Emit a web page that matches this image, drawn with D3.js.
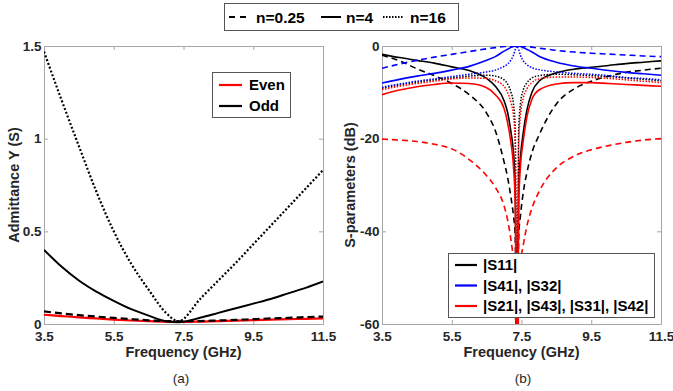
<!DOCTYPE html>
<html><head><meta charset="utf-8">
<script src="https://cdn.jsdelivr.net/npm/d3@7/dist/d3.min.js"></script>
<style>
body{margin:0;background:#fff;}
svg text{font-family:"Liberation Sans",Arial,sans-serif;}
</style></head>
<body><svg id="c" width="673" height="391"></svg>
<script>
// ---------- Data ----------
// (a) Admittance
const freqA = [3.5,4,4.5,5,5.5,6,6.5,7,7.35,8,8.5,9,9.5,10,10.5,11,11.5];
const oddN16  = [1.47,1.21,0.96,0.715,0.50,0.325,0.185,0.06,0.015,0.14,0.235,0.33,0.43,0.53,0.63,0.73,0.83];
const oddN4   = [0.40,0.31,0.235,0.175,0.125,0.08,0.045,0.015,0.01,0.035,0.06,0.085,0.11,0.135,0.165,0.195,0.23];
const oddN025 = [0.068,0.057,0.048,0.04,0.033,0.026,0.02,0.016,0.014,0.016,0.019,0.022,0.026,0.03,0.033,0.037,0.04];
const evenAll = [0.05,0.043,0.036,0.03,0.024,0.019,0.015,0.012,0.011,0.013,0.015,0.018,0.021,0.024,0.026,0.028,0.03];

// (b) S-parameters (dB)
const freqS = [3.5,4,4.5,5,5.5,6,6.5,6.75,7,7.1,7.2,7.27,7.32,7.37,7.42,7.47,7.55,7.65,7.8,8,8.5,9,9.5,10,10.5,11,11.5];
const s11N025 = [-2.0,-3.2,-4.9,-6.4,-8.1,-10.5,-14.5,-18.3,-25,-28.3,-32.8,-36.6,-41,-75,-41,-36.6,-31.6,-27.5,-23,-19.3,-12.5,-9.3,-7.6,-6.5,-5.7,-5.2,-4.8];
const s11N4   = [-1.8,-2.5,-3.1,-3.7,-4.5,-5.3,-7.0,-8.7,-11.8,-14.3,-18.7,-23,-30,-75,-30,-24,-18.7,-14,-10,-7.6,-5.8,-5.0,-4.6,-4.2,-3.8,-3.5,-3.2];
const s11N16  = [-9.1,-8.4,-7.8,-7.3,-6.9,-6.5,-6.3,-6.5,-7.3,-8.2,-10,-12.5,-18,-75,-18,-12.5,-9.5,-8,-6.9,-6.4,-6.1,-6.2,-6.4,-6.6,-6.9,-7.2,-7.5];
const s41N025 = [-4.8,-3.9,-3.1,-2.4,-1.8,-1.2,-0.6,-0.35,-0.12,-0.07,-0.03,-0.01,0,0,0,-0.02,-0.05,-0.1,-0.25,-0.45,-0.95,-1.3,-1.55,-1.75,-1.95,-2.15,-2.3];
const s41N4   = [-8.0,-7.2,-6.5,-5.9,-5.2,-4.4,-3.1,-2.3,-1.1,-0.7,-0.3,-0.1,0,0,0,-0.1,-0.3,-0.7,-1.3,-2.2,-3.5,-4.3,-4.8,-5.3,-5.7,-6.0,-6.3];
const s41N16  = [-8.9,-8.2,-7.6,-7.1,-6.6,-6.1,-5.6,-5.2,-4.4,-3.9,-3.0,-2.0,-0.8,0,-0.8,-2.0,-3.2,-4.0,-4.7,-5.1,-5.6,-5.9,-6.1,-6.4,-6.8,-7.0,-7.3];
const s21N025 = [-20.1,-20.3,-20.6,-21.2,-22.2,-24.5,-28,-30.5,-34.5,-37.5,-42,-46.5,-53,-85,-53,-47,-43,-39,-35,-31.5,-26.3,-23.8,-22.4,-21.5,-20.8,-20.3,-20.0];
const s21N4   = [-10.5,-9.5,-8.8,-8.3,-8.0,-8.1,-9.0,-10.5,-13.5,-16.5,-21,-26,-34,-80,-34,-26,-20.5,-15.5,-11.5,-9.5,-8.2,-7.9,-7.9,-8.1,-8.3,-8.5,-8.7];
const s21N16  = [-9.4,-8.7,-8.1,-7.6,-7.1,-6.9,-7.0,-7.5,-8.7,-10,-12.3,-15,-21,-80,-21,-15,-11.3,-9.3,-7.9,-7.1,-6.7,-6.7,-6.8,-7.0,-7.3,-7.6,-7.9];

const xTicks = [3.5,5.5,7.5,9.5,11.5];
const yTicksA = [0,0.5,1,1.5];
const yTicksB = [0,-20,-40,-60];

// ---------- Drawing ----------
const svg = d3.select("#c");
const FRAME = "#a6a6a6", TXT = "#262626";
const DASH = "7,4", DOT = "2,2";

function panel(px0, px1, py0, py1, ydom, yticks, yfmt, id){
  const x = d3.scaleLinear().domain([3.5,11.5]).range([px0,px1]);
  const y = d3.scaleLinear().domain(ydom).range([py1,py0]);
  const g = svg.append("g");
  g.append("clipPath").attr("id",id).append("rect")
    .attr("x",px0).attr("y",py0).attr("width",px1-px0).attr("height",py1-py0);
  const axes = [
    [d3.axisBottom(x).tickValues(xTicks).tickFormat(d3.format(".1f")), py1, 0],
    [d3.axisTop(x).tickValues(xTicks).tickFormat(""), py0, 0],
    [d3.axisLeft(y).tickValues(yticks).tickFormat(yfmt), px0, 1],
    [d3.axisRight(y).tickValues(yticks).tickFormat(""), px1, 1]
  ];
  axes.forEach(([ax,pos,vert])=>{
    ax.tickSizeInner(-4).tickSizeOuter(0).tickPadding(vert?2.5:7);
    const a = g.append("g").attr("transform", vert?`translate(${pos},0)`:`translate(0,${pos})`).call(ax);
    a.select(".domain").attr("stroke",FRAME).attr("stroke-width",1);
    a.selectAll(".tick line").attr("stroke",FRAME);
    a.selectAll("text").attr("fill",TXT).attr("font-size",13.5).attr("font-weight","bold")
      .attr("font-family",'"Liberation Sans",Arial,sans-serif');
  });
  const plot = g.append("g").attr("clip-path",`url(#${id})`);
  return {x,y,g,plot};
}

const A = panel(44,323,46,324,[0,1.5],yTicksA,d => d===0?"0":String(d),"clipA");
const B = panel(382,661,46,324,[-60,0],yTicksB,d => String(d),"clipB");

function drawLine(P, xs, ys, color, dash, w){
  const line = d3.line().x((d,i)=>P.x(xs[i])).y(d=>P.y(d)).curve(d3.curveMonotoneX);
  const p = P.plot.append("path").datum(ys).attr("d",line).attr("fill","none")
    .attr("stroke",color).attr("stroke-width",w);
  if(dash) p.attr("stroke-dasharray",dash);
}

// (a)
drawLine(A, freqA, evenAll, "#ff0000", null, 2.2);
drawLine(A, freqA, oddN025, "#000", DASH, 2.2);
drawLine(A, freqA, oddN4, "#000", null, 2);
drawLine(A, freqA, oddN16, "#000", DOT, 2.2);

// (b)
const bc = {k:"#000", b:"#0000ff", r:"#ff0000"};
drawLine(B, freqS, s11N025, bc.k, "6,4", 1.6);
drawLine(B, freqS, s11N4, bc.k, null, 1.6);
drawLine(B, freqS, s11N16, bc.k, "1.5,1.5", 1.5);
drawLine(B, freqS, s41N025, bc.b, "6,4", 1.6);
drawLine(B, freqS, s41N4, bc.b, null, 1.6);
drawLine(B, freqS, s41N16, bc.b, "1.5,1.5", 1.5);
drawLine(B, freqS, s21N025, bc.r, "6,4", 1.6);
drawLine(B, freqS, s21N4, bc.r, null, 1.6);
drawLine(B, freqS, s21N16, bc.r, "1.5,1.5", 1.5);

// axis titles
function txt(x,y,s,size,weight,anchor,rot){
  const t = svg.append("text").attr("x",x).attr("y",y).text(s)
    .attr("font-size",size).attr("font-weight",weight).attr("fill",TXT)
    .attr("text-anchor",anchor||"middle");
  if(rot) t.attr("transform",`rotate(-90,${x},${y})`);
  return t;
}
txt(183.5,357,"Frequency (GHz)",14.5,"bold");
txt(521.5,357,"Frequency (GHz)",14.5,"bold");
txt(19,185,"Admittance Y (S)",14.5,"bold","middle",true);
txt(354.5,185,"S-parameters (dB)",14.5,"bold","middle",true);
txt(181,383,"(a)",13.5,"normal");
txt(523,383,"(b)",13.5,"normal");

// legend (a)
const la = svg.append("g");
la.append("rect").attr("x",212.5).attr("y",72.5).attr("width",78).attr("height",45)
  .attr("fill","#fff").attr("stroke","#555").attr("stroke-width",1);
[["Even","#ff0000",85],["Odd","#000",106]].forEach(([s,c,yy])=>{
  la.append("line").attr("x1",219).attr("x2",242).attr("y1",yy).attr("y2",yy).attr("stroke",c).attr("stroke-width",2.2);
  la.append("text").attr("x",249).attr("y",yy).attr("dy","0.36em").text(s)
    .attr("font-size",15).attr("font-weight","bold").attr("fill","#000");
});

// legend (b)
const lb = svg.append("g");
lb.append("rect").attr("x",448.5).attr("y",253.5).attr("width",206).attr("height",64)
  .attr("fill","#fff").attr("stroke","#555").attr("stroke-width",1);
[["|S11|","#000",265],["|S41|, |S32|","#0000ff",285.5],["|S21|, |S43|, |S31|, |S42|","#ff0000",306]].forEach(([s,c,yy])=>{
  lb.append("line").attr("x1",455).attr("x2",477).attr("y1",yy).attr("y2",yy).attr("stroke",c).attr("stroke-width",2.2);
  lb.append("text").attr("x",483).attr("y",yy).attr("dy","0.36em").text(s)
    .attr("font-size",15).attr("font-weight","bold").attr("fill","#000");
});

// top legend
const lt = svg.append("g");
lt.append("rect").attr("x",224.5).attr("y",3.5).attr("width",234).attr("height",27)
  .attr("fill","#fff").attr("stroke","#555").attr("stroke-width",1);
[["n=0.25",229,251,256,"6,5"],["n=4",321,341,346,null],["n=16",383,404,410,"1.5,1.5"]].forEach(([s,a,b,tx,d])=>{
  const l = lt.append("line").attr("x1",a).attr("x2",b).attr("y1",17).attr("y2",17).attr("stroke","#000").attr("stroke-width",2);
  if(d) l.attr("stroke-dasharray",d);
  lt.append("text").attr("x",tx).attr("y",17).attr("dy","0.36em").text(s)
    .attr("font-size",15.5).attr("font-weight","bold").attr("fill","#000");
});
</script></body></html>
